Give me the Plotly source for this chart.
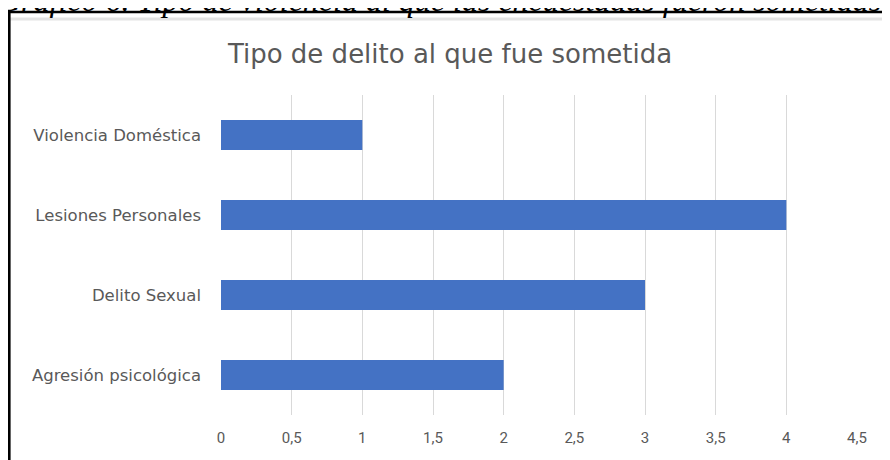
import plotly.graph_objects as go

categories = ["Agresión psicológica", "Delito Sexual", "Lesiones Personales", "Violencia Doméstica"]
values = [2, 3, 4, 1]
tick_vals = [0, 0.5, 1, 1.5, 2, 2.5, 3, 3.5, 4, 4.5]
chart_title = "Tipo de delito al que fue sometida"
caption = "Gráfico 6. Tipo de violencia al que las encuestadas fueron sometidas"

# page has an 8px body margin; figure coords = page coords - 8
W, H = 882, 452
L, R, T, B = 213, 33, 87, 45
pw, ph = W - L - R, H - T - B

def px_x(px):
    return (px - L) / pw

def px_y(py):
    return (H - B - py) / ph

fig = go.Figure(go.Bar(
    x=values, y=categories, orientation="h",
    marker=dict(color="#4472C4", line=dict(width=0)),
    width=0.375,
))

grey = "#595959"
fig.update_layout(
    width=W, height=H,
    margin=dict(l=L, r=R, t=T, b=B, pad=0),
    paper_bgcolor="white", plot_bgcolor="white",
    separators=",.",
    showlegend=False,
    font=dict(family="DejaVu Sans, sans-serif", color=grey, size=13),
    title=dict(text=chart_title, x=442 / W, xanchor="center", y=1 - 46 / H, yanchor="middle",
               font=dict(size=26, color=grey, family="DejaVu Sans, sans-serif")),
    xaxis=dict(range=[0, 4.5], tickvals=tick_vals, showgrid=True, gridcolor="#d9d9d9", gridwidth=1,
               zeroline=False, showline=False, ticks="", ticklabelstandoff=12,
               tickfont=dict(size=15, color=grey, family="Roboto, sans-serif")),
    yaxis=dict(showgrid=False, zeroline=False, showline=False, ticks="", ticklabelstandoff=19,
               tickfont=dict(size=16.5, color=grey, family="DejaVu Sans, sans-serif")),
    annotations=[dict(text=f"<i>{caption}</i>", xref="paper", yref="paper",
                      x=px_x(-12), y=px_y(12.5), xanchor="left", yanchor="bottom", showarrow=False,
                      font=dict(family="Liberation Serif, serif", size=32, color="black"))],
    shapes=[
        dict(type="line", xref="paper", yref="paper", x0=px_x(2), x1=px_x(W + 5), y0=px_y(11), y1=px_y(11),
             line=dict(color="#e3e3e3", width=3), layer="below"),
        dict(type="rect", xref="paper", yref="paper", x0=px_x(1.3), x1=px_x(W + 10), y0=px_y(H + 10), y1=px_y(4),
             line=dict(color="black", width=2.6), fillcolor="rgba(0,0,0,0)"),
    ],
)

fig.write_html("out.html")
